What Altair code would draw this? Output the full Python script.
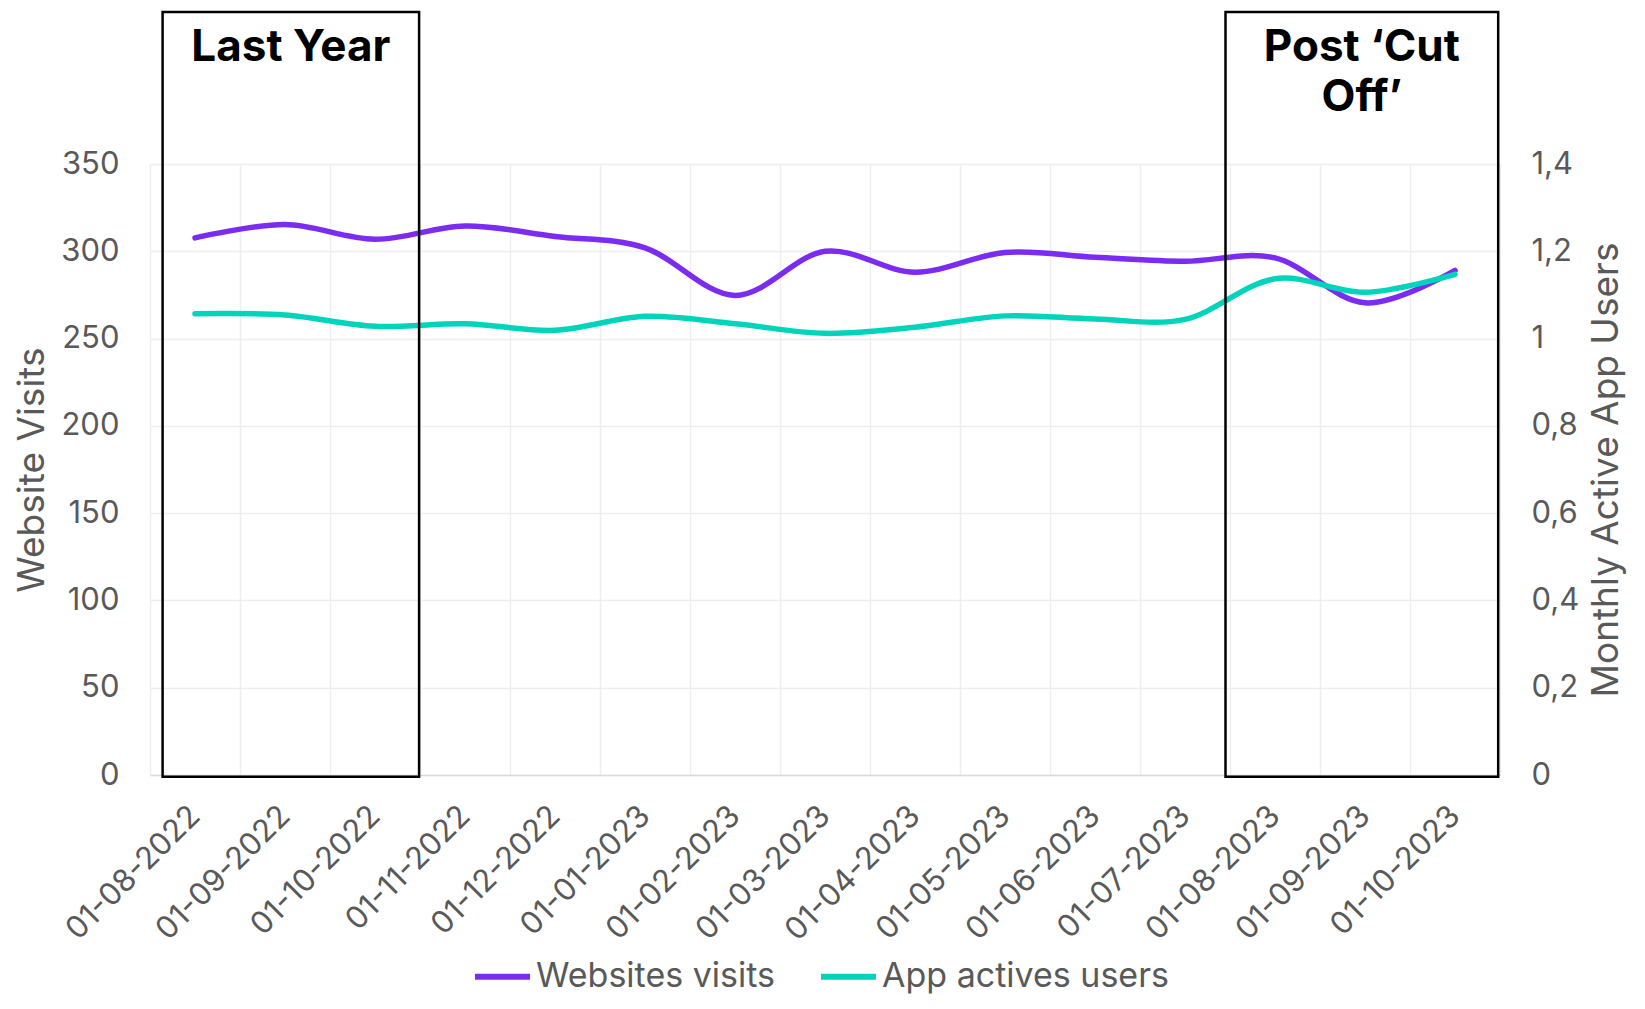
import json
import altair as alt
import pandas as pd

# ---------------- data ----------------
dates = ["01-08-2022", "01-09-2022", "01-10-2022", "01-11-2022", "01-12-2022",
         "01-01-2023", "01-02-2023", "01-03-2023", "01-04-2023", "01-05-2023",
         "01-06-2023", "01-07-2023", "01-08-2023", "01-09-2023", "01-10-2023"]
website_visits = [307.7, 315.3, 306.9, 314.5, 308.5, 302.0, 274.7, 300.0,
                  288.0, 299.3, 296.6, 294.3, 296.2, 270.5, 289.0]
app_users = [1.057, 1.054, 1.028, 1.034, 1.019, 1.051, 1.034, 1.012,
             1.026, 1.052, 1.045, 1.044, 1.137, 1.106, 1.147]

series_names = ["Websites visits", "App actives users"]
series_colors = ["#7B2CF0", "#00D5BC"]
y_left_ticks = [0, 50, 100, 150, 200, 250, 300, 350]
y_right_ticks = [0, 0.2, 0.4, 0.6, 0.8, 1, 1.2, 1.4]

# annotation boxes (in data units: month index / website visits)
box_labels = ["Last Year", "Post \u2018Cut\nOff\u2019"]
box_x_start = [-0.36, 11.45]
box_x_end = [2.49, 14.48]
box_y_bottom = [-1, -1]
box_y_top = [437, 437]
box_label_y = [409, 409]

# ---------------- style ----------------
FONT = "Inter"
TEXT = "#595959"
GRID = "#EEEEEE"
FS = 31
TITLE_FS = 37
LEG_FS = 34
W, H = 1350, 611
n = len(dates)

df = pd.DataFrame({"date": dates, "idx": list(range(n)),
                   "visits": website_visits, "users": app_users})
boxes = pd.DataFrame({"label": box_labels, "x0": box_x_start, "x1": box_x_end,
                      "y0": box_y_bottom, "y1": box_y_top, "ty": box_label_y})

x_scale = alt.Scale(domain=[-0.5, n - 0.5], nice=False, zero=False)
label_expr = "datum.value < %d ? %s[datum.value + 0.5] : ''" % (n - 1, json.dumps(dates))
x_axis = alt.Axis(values=[i - 0.5 for i in range(n + 1)], labelExpr=label_expr,
                  title=None, grid=True, gridColor=GRID, gridWidth=1.5,
                  domain=True, domainColor="#D9D9D9", domainWidth=1.5, ticks=False,
                  labelAngle=-45, labelAlign="right", labelBaseline="middle",
                  labelOffset=45, labelPadding=36, labelOverlap=False,
                  labelFlush=False, labelBound=False,
                  labelFont=FONT, labelFontSize=FS, labelColor=TEXT)

left_axis = alt.Axis(values=y_left_ticks, title="Website Visits", orient="left",
                     grid=True, gridColor=GRID, gridWidth=1.5, domain=False, ticks=False,
                     labelFont=FONT, labelFontSize=FS, labelColor=TEXT, labelPadding=31,
                     labelFlush=False,
                     titleFont=FONT, titleFontSize=TITLE_FS, titleFontWeight="normal",
                     titleColor=TEXT, titleAngle=270, titleX=-118, titleY=H / 2,
                     titleAlign="center", titleBaseline="middle")

right_axis = alt.Axis(values=y_right_ticks, title="Monthly Active App Users", orient="right",
                      labelExpr="replace(format(datum.value, '~g'), '.', ',')",
                      grid=False, domain=False, ticks=False,
                      labelFont=FONT, labelFontSize=FS, labelColor=TEXT, labelPadding=31,
                      labelFlush=False,
                      titleFont=FONT, titleFontSize=TITLE_FS, titleFontWeight="normal",
                      titleColor=TEXT, titleAngle=270, titleX=106, titleY=H / 2,
                      titleAlign="center", titleBaseline="middle")

legend = alt.Legend(title=None, orient="none", legendX=322, legendY=782,
                    direction="horizontal", symbolType="stroke", symbolStrokeWidth=6,
                    symbolSize=3025, labelFont=FONT, labelFontSize=LEG_FS, labelColor=TEXT,
                    labelLimit=600, columnPadding=34, labelOffset=3)
color = alt.Color("series:N", scale=alt.Scale(domain=series_names, range=series_colors),
                  legend=legend)

base = alt.Chart(df)
x_enc = alt.X("idx:Q", scale=x_scale, axis=x_axis)

purple = base.transform_calculate(series="'%s'" % series_names[0]).mark_line(
    interpolate="cardinal", strokeWidth=5.5, strokeCap="round").encode(
    x=x_enc,
    y=alt.Y("visits:Q", scale=alt.Scale(domain=[0, 350], nice=False), axis=left_axis),
    color=color)

teal = base.transform_calculate(series="'%s'" % series_names[1]).mark_line(
    interpolate="cardinal", strokeWidth=5.5, strokeCap="round").encode(
    x=x_enc,
    y=alt.Y("users:Q", scale=alt.Scale(domain=[0, 1.4], nice=False), axis=right_axis),
    color=color)

ann_base = alt.Chart(boxes)
rects = ann_base.mark_rect(fill=None, stroke="black", strokeWidth=2.5).encode(
    x=alt.X("x0:Q", scale=x_scale, axis=x_axis), x2="x1:Q",
    y=alt.Y("y0:Q", scale=alt.Scale(domain=[0, 350], nice=False), axis=None), y2="y1:Q")
texts = ann_base.transform_calculate(xm="(datum.x0 + datum.x1) / 2").mark_text(
    font=FONT, fontSize=44, fontWeight="bold", color="black", align="center",
    baseline="alphabetic", lineBreak="\n", lineHeight=50).encode(
    x=alt.X("xm:Q", scale=x_scale, axis=x_axis),
    y=alt.Y("ty:Q", scale=alt.Scale(domain=[0, 350], nice=False), axis=None),
    text="label:N")
annotations = alt.layer(rects, texts)

chart = alt.layer(purple, teal, annotations).resolve_scale(y="independent").properties(
    width=W, height=H,
    autosize=alt.AutoSizeParams(type="none"),
    padding={"left": 142, "top": 156, "right": 137, "bottom": 222},
    background="white",
).configure_view(stroke=None)

chart.save("out.html", embed_options={"renderer": "svg", "actions": False})
